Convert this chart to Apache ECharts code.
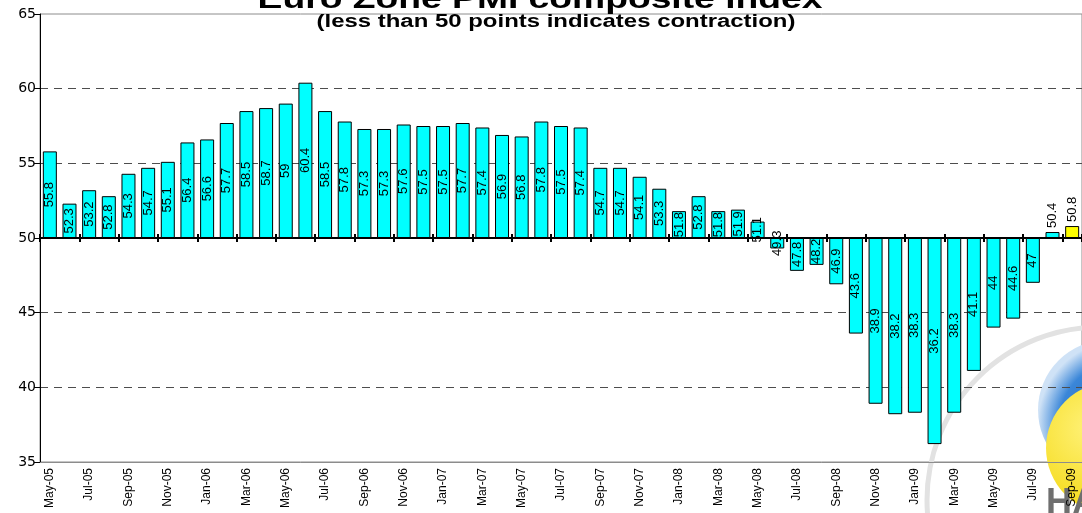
<!DOCTYPE html>
<html>
<head>
<meta charset="utf-8">
<title>Euro Zone PMI composite index</title>
<script src="https://cdn.jsdelivr.net/npm/echarts@6/dist/echarts.min.js"></script>
<style>
  html, body { margin: 0; padding: 0; background: #fff; }
  #pmiChart { width: 1082px; height: 513px; }
</style>
</head>
<body>
<div id="pmiChart"></div>
<script>
// months, May-05 .. Sep-09
var months = [
  'May-05', 'Jun-05', 'Jul-05', 'Aug-05', 'Sep-05', 'Oct-05', 'Nov-05', 'Dec-05',
  'Jan-06', 'Feb-06', 'Mar-06', 'Apr-06', 'May-06', 'Jun-06', 'Jul-06', 'Aug-06',
  'Sep-06', 'Oct-06', 'Nov-06', 'Dec-06',
  'Jan-07', 'Feb-07', 'Mar-07', 'Apr-07', 'May-07', 'Jun-07', 'Jul-07', 'Aug-07',
  'Sep-07', 'Oct-07', 'Nov-07', 'Dec-07',
  'Jan-08', 'Feb-08', 'Mar-08', 'Apr-08', 'May-08', 'Jun-08', 'Jul-08', 'Aug-08',
  'Sep-08', 'Oct-08', 'Nov-08', 'Dec-08',
  'Jan-09', 'Feb-09', 'Mar-09', 'Apr-09', 'May-09', 'Jun-09', 'Jul-09', 'Aug-09',
  'Sep-09'
];

// PMI composite readings
var pmiValues = [
  55.8, 52.3, 53.2, 52.8, 54.3, 54.7, 55.1, 56.4,
  56.6, 57.7, 58.5, 58.7, 59, 60.4, 58.5, 57.8, 57.3, 57.3, 57.6, 57.5,
  57.5, 57.7, 57.4, 56.9, 56.8, 57.8, 57.5, 57.4, 54.7, 54.7, 54.1, 53.3,
  51.8, 52.8, 51.8, 51.9, 51.1, 49.3, 47.8, 48.2, 46.9, 43.6, 38.9, 38.2,
  38.3, 36.2, 38.3, 41.1, 44, 44.6, 47, 50.4, 50.8
];

var baseLevel = 50;          // bars grow up/down from 50
var axisMin = 35, axisMax = 65, axisStep = 5;

var chart = echarts.init(document.getElementById('pmiChart'));

// bars are drawn as distance from 50 so they hang from the 50 line
var barData = pmiValues.map(function (v) {
  var item = { value: +(v - baseLevel).toFixed(2) };
  if (v >= baseLevel && v - baseLevel < 1) {
    item.label = { position: 'top', align: 'left', verticalAlign: 'middle', distance: 4 };
  }
  return item;
});

var catAxisBase = {
  type: 'category',
  data: months,
  boundaryGap: true,
  axisLabel: { show: false },
  splitLine: { show: false }
};

var option = {
  backgroundColor: '#fff',
  animation: false,
  grid: {
    left: 40, top: 14, width: 1050, height: 448,
    show: true, borderColor: '#8c8c8c', borderWidth: 1
  },
  xAxis: [
    // bottom: month labels
    Object.assign({}, catAxisBase, {
      position: 'bottom',
      axisLine: { onZero: false, lineStyle: { color: '#8c8c8c' } },
      axisTick: { show: false },
      axisLabel: {
        show: true, interval: 1, rotate: 90, margin: 6,
        fontFamily: 'Liberation Sans', fontSize: 12, color: '#000'
      }
    }),
    // the 50 line, ticks below
    Object.assign({}, catAxisBase, {
      position: 'bottom',
      axisLine: { onZero: true, onZeroAxisIndex: 0, lineStyle: { color: '#000', width: 2 } },
      axisTick: { show: true, interval: 1, length: 4, lineStyle: { color: '#000', width: 2 } }
    }),
    // the 50 line, ticks above
    Object.assign({}, catAxisBase, {
      position: 'top',
      axisLine: { show: true, onZero: true, onZeroAxisIndex: 0, lineStyle: { color: '#000', width: 2 } },
      axisTick: { show: true, interval: 1, length: 4, lineStyle: { color: '#000', width: 2 } }
    })
  ],
  yAxis: {
    type: 'value',
    min: axisMin - baseLevel,
    max: axisMax - baseLevel,
    interval: axisStep,
    axisLine: { show: true, lineStyle: { color: '#000', width: 1 } },
    axisTick: { show: true, length: 6, lineStyle: { color: '#000' } },
    axisLabel: {
      margin: 4,
      fontFamily: 'DejaVu Sans', fontSize: 14, color: '#000',
      formatter: function (v) { return v + baseLevel; }
    },
    splitLine: {
      show: true, showMinLine: false, showMaxLine: false,
      lineStyle: { color: '#4d4d4d', width: 1, type: [8, 6] }
    }
  },
  graphic: [
    // faint logo in the corner
    { type: 'circle', z: 0, silent: true, shape: { cx: 1100, cy: 500, r: 173 },
      style: { fill: 'none', stroke: '#e2e2e2', lineWidth: 5 } },
    { type: 'circle', z: 0, silent: true, shape: { cx: 1108, cy: 410, r: 70 },
      style: { fill: new echarts.graphic.RadialGradient(0.6, 0.6, 0.6, [
        { offset: 0, color: '#1f5fb3' }, { offset: 0.75, color: '#3a86d8' }, { offset: 1, color: '#cfe2f6' }
      ]) } },
    { type: 'circle', z: 0, silent: true, shape: { cx: 1112, cy: 448, r: 66 },
      style: { fill: new echarts.graphic.RadialGradient(0.35, 0.35, 0.8, [
        { offset: 0, color: '#fff27a' }, { offset: 1, color: '#f2d400' }
      ]) } },
    { type: 'text', z: 0, silent: true, x: 1046, y: 486,
      style: { text: 'HA', font: 'bold 36px "Liberation Sans"', fill: '#6f6f6f' } },
    // titles, stretched sideways like the source image
    { type: 'text', z: 10, x: 540, y: 0, scaleX: 1.33,
      style: { text: 'Euro Zone PMI composite index', font: 'bold 28px "Liberation Sans"',
        fill: '#000', textAlign: 'center', textVerticalAlign: 'middle' } },
    { type: 'text', z: 10, x: 556, y: 22, scaleX: 1.33,
      style: { text: '(less than 50 points indicates contraction)', font: 'bold 18px "Liberation Sans"',
        fill: '#000', textAlign: 'center', textVerticalAlign: 'middle' } }
  ],
  series: [{
    type: 'bar',
    xAxisIndex: 0,
    data: barData,
    barWidth: 14,
    itemStyle: {
      borderColor: '#000',
      borderWidth: 1,
      color: function (p) { return p.dataIndex === months.length - 1 ? '#ffff00' : '#00ffff'; }
    },
    label: {
      show: true,
      position: 'inside',
      rotate: 90,
      fontFamily: 'Liberation Sans',
      fontSize: 13,
      color: '#000',
      formatter: function (p) { return pmiValues[p.dataIndex]; }
    }
  }]
};

chart.setOption(option);
window.onresize = function () { chart.resize(); };
</script>
</body>
</html>
